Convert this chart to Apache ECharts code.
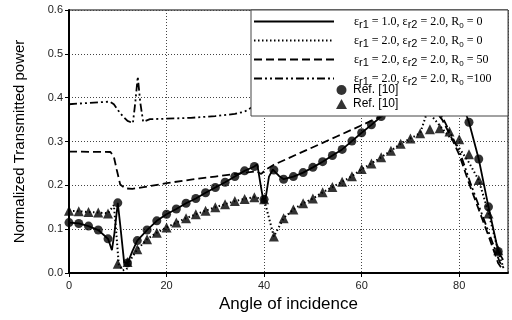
<!DOCTYPE html>
<html>
<head>
<meta charset="utf-8">
<script src="https://cdn.jsdelivr.net/npm/echarts@6/dist/echarts.min.js"></script>
<style>
  html, body { margin: 0; padding: 0; background: #fff; }
  #chart { width: 512px; height: 320px; }
</style>
</head>
<body>
<div id="chart"></div>
<script>
// simulated curves, [angle, power]
const solidLine = [[0,0.115],[2,0.113],[4,0.107],[6,0.098],[8,0.078],[8.8,0.052],[9.3,0.09],[10,0.16],[10.5,0.11],[11.3,0.025],[12,0.022],[13,0.05],[14,0.074],[16,0.098],[18,0.119],[20,0.134],[22,0.146],[24,0.159],[26,0.17],[28,0.183],[30,0.195],[32,0.207],[34,0.22],[36,0.233],[38,0.243],[38.6,0.248],[39.3,0.2],[39.8,0.168],[40.3,0.17],[41,0.22],[41.8,0.236],[43,0.222],[44,0.214],[46,0.22],[48,0.229],[50,0.241],[52,0.254],[54,0.268],[56,0.282],[58,0.301],[60,0.32],[62,0.338],[64,0.357],[66,0.377],[68,0.397],[70,0.415],[72,0.43],[74,0.44],[76,0.445],[78,0.435],[80,0.405],[82,0.344],[84,0.26],[86,0.151],[88,0.049],[89,0.03]];
const dottedLine = [[0,0.142],[2,0.141],[4,0.139],[6,0.138],[8,0.136],[9.2,0.155],[9.7,0.09],[10.2,0.02],[11,0.006],[11.8,0.008],[12.6,0.03],[14,0.054],[16,0.077],[18,0.092],[20,0.104],[22,0.115],[24,0.125],[26,0.134],[28,0.142],[30,0.15],[32,0.157],[34,0.164],[36,0.169],[38,0.173],[40,0.168],[42,0.083],[44,0.125],[46,0.145],[48,0.159],[50,0.17],[52,0.184],[54,0.196],[56,0.208],[58,0.221],[60,0.237],[62,0.25],[64,0.264],[66,0.279],[68,0.295],[70,0.307],[72,0.319],[73.5,0.37],[74.6,0.355],[77,0.323],[80,0.285],[82,0.252],[84,0.212],[86,0.137],[88,0.05],[89,0.014]];
const dashedLine = [[0,0.277],[8.5,0.276],[9.2,0.265],[9.8,0.235],[10.5,0.202],[11.5,0.193],[13,0.192],[16,0.197],[20,0.205],[25,0.213],[30,0.22],[35,0.227],[38.4,0.232],[39.4,0.226],[40.4,0.236],[42,0.247],[45,0.262],[50,0.287],[55,0.312],[60,0.337],[64.4,0.36],[68,0.378],[72,0.39],[74,0.385],[76.5,0.35],[78.3,0.311],[80,0.27],[82,0.205],[84,0.145],[86,0.085],[88,0.022],[89,0.006]];
const dashDotLine = [[0,0.385],[4,0.388],[8.4,0.391],[9.2,0.385],[10,0.372],[11,0.358],[12,0.347],[13.1,0.342],[13.6,0.39],[14.1,0.448],[14.6,0.39],[15.2,0.345],[16.6,0.351],[20,0.352],[25,0.354],[30,0.358],[34,0.363],[36,0.368],[37.5,0.378],[45,0.39],[55,0.4],[65,0.41],[72,0.415],[74.5,0.39],[76.8,0.35],[78.6,0.31],[80.3,0.27],[82.3,0.205],[84.3,0.145],[86.3,0.085],[88.3,0.025],[89.2,0.01]];

// Ref. [10] points
const refAngles = [0,2,4,6,8,10,12,14,16,18,20,22,24,26,28,30,32,34,36,38,40,42,44,46,48,50,52,54,56,58,60,62,64,66,68,70,72,74,76,78,80,82,84,86,88];
const refCircles = [0.115,0.113,0.107,0.098,0.078,0.16,0.023,0.074,0.098,0.119,0.134,0.146,0.159,0.17,0.183,0.195,0.207,0.22,0.233,0.243,0.168,0.235,0.214,0.22,0.229,0.241,0.254,0.268,0.282,0.301,0.32,0.338,0.357,0.377,0.397,0.415,0.43,0.44,0.445,0.435,0.405,0.344,0.26,0.151,0.049];
const refTriangles = [0.142,0.141,0.139,0.138,0.136,0.021,0.025,0.054,0.077,0.092,0.104,0.115,0.125,0.134,0.142,0.15,0.157,0.164,0.169,0.173,0.168,0.083,0.125,0.145,0.159,0.17,0.184,0.196,0.208,0.221,0.237,0.25,0.264,0.279,0.295,0.307,0.319,0.328,0.33,0.323,0.305,0.271,0.212,0.136,0.052];

const legendText = {
  s1: 'ε{sub|r1} = 1.0, ε{sub|r2} = 2.0, R{sub0|0} = 0',
  s2: 'ε{sub|r1} = 2.0, ε{sub|r2} = 2.0, R{sub0|0} = 0',
  s3: 'ε{sub|r1} = 2.0, ε{sub|r2} = 2.0, R{sub0|0} = 50',
  s4: 'ε{sub|r1} = 2.0, ε{sub|r2} = 2.0, R{sub0|0} =100'
};

const chart = echarts.init(document.getElementById('chart'));

const lineSeries = (name, data, type, width) => ({
  name: name,
  type: 'line',
  data: data,
  symbol: 'none',
  z: 2,
  itemStyle: { color: '#000' },
  lineStyle: { color: '#000', width: width, type: type }
});

const refSeries = (name, values, symbol, size, z) => ({
  name: name,
  type: 'scatter',
  data: refAngles.map((a, i) => [a, values[i]]),
  symbol: symbol,
  symbolSize: size,
  z: z,
  itemStyle: { color: '#000' }
});

chart.setOption({
  animation: false,
  backgroundColor: '#fff',
  grid: { left: 69, right: 4, top: 10, bottom: 47, show: true, borderColor: '#000', borderWidth: 1 },
  xAxis: {
    type: 'value',
    min: 0,
    max: 90,
    interval: 20,
    name: 'Angle of incidence',
    nameLocation: 'middle',
    nameGap: 22,
    nameTextStyle: { fontFamily: 'Liberation Sans', fontSize: 17, color: '#000' },
    axisLine: { lineStyle: { color: '#000', width: 2 } },
    axisTick: { length: 4, lineStyle: { color: '#000' } },
    axisLabel: { color: '#222', fontFamily: 'Liberation Sans', fontSize: 11, margin: 7, showMaxLabel: false },
    splitLine: { lineStyle: { color: '#444', type: [1, 2] } }
  },
  yAxis: {
    type: 'value',
    min: 0,
    max: 0.6,
    interval: 0.1,
    name: 'Normalized Transmitted power',
    nameLocation: 'middle',
    nameGap: 42,
    nameTextStyle: { fontFamily: 'Liberation Sans', fontSize: 15, color: '#000' },
    axisLine: { lineStyle: { color: '#000', width: 2 } },
    axisTick: { length: 4, lineStyle: { color: '#000' } },
    axisLabel: { color: '#222', fontFamily: 'Liberation Sans', fontSize: 11, margin: 6, formatter: v => v.toFixed(1) },
    splitLine: { lineStyle: { color: '#444', type: [1, 2] } }
  },
  graphic: [{
    type: 'rect',
    z: 10,
    shape: { x: 251, y: 10, width: 257, height: 106 },
    style: { fill: '#fff', stroke: '#444', lineWidth: 1 }
  }],
  legend: [{
    data: ['s1', 's2', 's3', 's4'],
    orient: 'vertical',
    left: 253,
    top: 13,
    padding: 0,
    z: 20,
    itemWidth: 80,
    itemHeight: 10,
    itemGap: 2,
    selectedMode: false,
    itemStyle: { opacity: 0 },
    formatter: n => legendText[n],
    textStyle: {
      fontFamily: 'Liberation Serif',
      fontSize: 12,
      lineHeight: 17,
      color: '#000',
      padding: [0, 0, 0, 15],
      rich: {
        sub: { fontFamily: 'Liberation Sans', fontSize: 11, lineHeight: 17, color: '#000', verticalAlign: 'bottom' },
        sub0: { fontFamily: 'Liberation Sans', fontSize: 8, lineHeight: 17, color: '#000', verticalAlign: 'bottom' }
      }
    }
  }, {
    data: ['r1', 'r2'],
    orient: 'vertical',
    left: 336,
    top: 83,
    padding: 0,
    z: 20,
    itemWidth: 11,
    itemHeight: 10,
    itemGap: 0,
    selectedMode: false,
    formatter: () => 'Ref. [10]',
    textStyle: { fontFamily: 'Liberation Sans', fontSize: 12, lineHeight: 14, color: '#000', padding: [0, 0, 0, 1] }
  }],
  series: [
    lineSeries('s1', solidLine, 'solid', 1.8),
    lineSeries('s2', dottedLine, [1.5, 2.5], 2),
    lineSeries('s3', dashedLine, [8, 4], 1.8),
    lineSeries('s4', dashDotLine, [8, 3, 2, 3, 2, 3], 1.8),
    refSeries('r1', refCircles, 'circle', 9, 4),
    refSeries('r2', refTriangles, 'triangle', 10, 3)
  ]
});
</script>
</body>
</html>
